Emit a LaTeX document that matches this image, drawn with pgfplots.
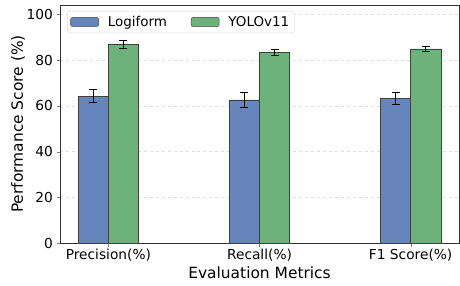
\documentclass[border=0pt]{standalone}
\usepackage{pgfplots}
\pgfplotsset{compat=1.18}
\usepackage{fontspec}
\setmainfont{DejaVu Sans}
\definecolor{cblue}{RGB}{103,133,189}
\definecolor{cgreen}{RGB}{108,178,122}
\begin{document}
\begin{tikzpicture}[x=1bp,y=1bp]
\path (0,0) rectangle (460,285);
\begin{axis}[
  at={(60bp,42bp)}, anchor=south west,
  scale only axis, width=399bp, height=238bp,
  xmin=-0.32, xmax=2.32, ymin=0, ymax=104.2,
  xtick={0,1,2},
  xticklabels={Precision(\%),Recall(\%),F1 Score(\%)},
  ytick={0,20,40,60,80,100},
  /pgf/number format/assume math mode=true,
  tick label style={font=\fontsize{13.8}{15}\selectfont, text=black},
  xticklabel style={yshift=1bp},
  xlabel={Evaluation Metrics}, ylabel={Performance Score (\%)},
  label style={font=\fontsize{15.5}{17}\selectfont},
  xlabel style={yshift=1bp},
  ylabel style={yshift=-5bp},
  tick align=outside, tick pos=left,
  major tick length=3.5bp,
  axis line style={black!80, line width=0.6pt},
  ymajorgrids, grid style={dashed, gray!25, line width=0.4pt},
  ybar, bar width=0.2,
  legend style={at={(0.018,0.975)}, anchor=north west, draw=gray!30, rounded corners=2bp,
    font=\fontsize{13.5}{15}\selectfont, legend columns=2, inner sep=3bp,
    /tikz/every even column/.append style={column sep=22bp}},
  legend image code/.code={\draw[#1] (0bp,-4.5bp) rectangle (28bp,4.5bp);},
  error bars/y dir=both, error bars/y explicit,
  error bars/error bar style={black, line width=0.9pt},
  error bars/error mark options={rotate=90, mark size=4bp, black, line width=0.9pt},
]
\addplot[fill=cblue, draw=black!75, line width=0.5pt, bar shift=-0.1]
  table[x=x, y=y, y error=e] {
x y e
0 64.3 2.8
1 62.7 3.3
2 63.4 2.7
};
\addlegendentry{\hspace{7bp}Logiform}
\addplot[fill=cgreen, draw=black!75, line width=0.5pt, bar shift=0.1]
  table[x=x, y=y, y error=e] {
x y e
0 86.8 1.7
1 83.4 1.4
2 85.0 1.2
};
\addlegendentry{\hspace{7bp}YOLOv11}
\end{axis}
\end{tikzpicture}
\end{document}
